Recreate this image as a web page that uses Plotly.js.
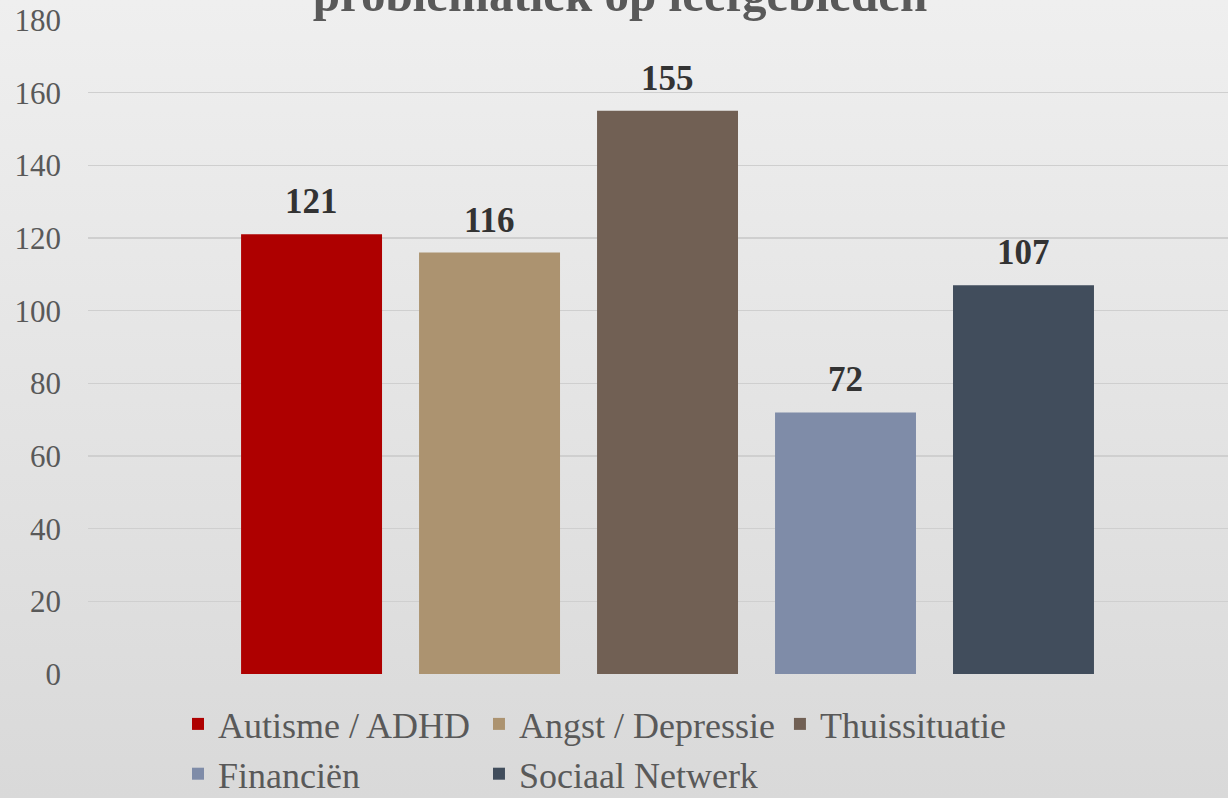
<!DOCTYPE html>
<html>
<head>
<meta charset="utf-8">
<script src="https://cdn.plot.ly/plotly-3.0.1.min.js"></script>
<style>
  html, body { margin: 0; padding: 0; }
  body { width: 1228px; height: 798px; background: linear-gradient(#efefef, #d9d9d9); overflow: hidden; }
  #chart { width: 1228px; height: 798px; }
</style>
</head>
<body>
<div id="chart"></div>
<script>
const categories = ["Autisme / ADHD", "Angst / Depressie", "Thuissituatie", "Financiën", "Sociaal Netwerk"];
const values = [121, 116, 155, 72, 107];
const colors = ["#ae0000", "#ac9370", "#716054", "#7f8ca8", "#414d5c"];
const titleText = "problematiek op leefgebieden";
const yTicks = [0, 20, 40, 60, 80, 100, 120, 140, 160, 180];

const serif = "Liberation Serif, Times New Roman, serif";

const traces = categories.map((c, i) => ({
  type: "bar",
  name: c,
  x: [c],
  y: [values[i]],
  marker: { color: colors[i] },
  hoverinfo: "name+y"
}));

const annotations = categories.map((c, i) => ({
  x: c, y: values[i], xref: "x", yref: "y",
  text: "<b>" + values[i] + "</b>",
  showarrow: false, yanchor: "bottom", yshift: 11,
  font: { family: serif, size: 35, color: "#333333" }
}));

const layout = {
  width: 1228, height: 798,
  paper_bgcolor: "rgba(0,0,0,0)",
  plot_bgcolor: "rgba(0,0,0,0)",
  margin: { l: 88, r: 0, t: 20, b: 124 },
  barmode: "overlay",
  bargap: 0.208,
  title: {
    text: "<b>" + titleText + "</b>",
    font: { family: serif, size: 49, color: "#595959" },
    x: 620 / 1228, xanchor: "center", xref: "container",
    y: 1 - 11 / 798, yanchor: "bottom", yref: "container"
  },
  xaxis: {
    type: "category",
    range: [-1.256, 5.149],
    showticklabels: false, showgrid: false, zeroline: false, showline: false, ticks: ""
  },
  yaxis: {
    range: [0, 180],
    tickvals: yTicks,
    ticks: "",
    ticklabelstandoff: 26,
    tickfont: { family: serif, size: 31, color: "#595959" },
    showgrid: true, gridcolor: "#cfcfcf", gridwidth: 1.5,
    zeroline: false, showline: false
  },
  showlegend: true,
  legend: {
    orientation: "h",
    x: (178 - 88) / 1140, xanchor: "left",
    y: (798 - 694) / 798, yref: "container", yanchor: "top",
    font: { family: serif, size: 36, color: "#595959" },
    bgcolor: "rgba(0,0,0,0)"
  },
  annotations: annotations
};

Plotly.newPlot("chart", traces, layout, { displayModeBar: false, staticPlot: true });
</script>
</body>
</html>
